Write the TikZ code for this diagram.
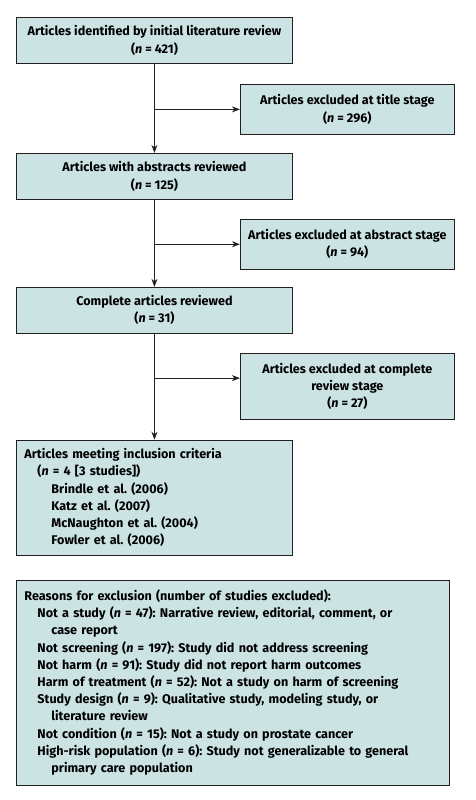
\documentclass[tikz,border=0pt]{standalone}
\usepackage{fontspec}
\setmainfont{Fira Sans}
\usetikzlibrary{positioning,arrows.meta}
\definecolor{boxfill}{RGB}{204,227,228}
\definecolor{boxline}{RGB}{35,31,32}
\frenchspacing
\begin{document}
\begin{tikzpicture}[x=1pt,y=1pt]
        \tikzstyle{stage}=[rectangle,draw=boxline,fill=boxfill,line width=0.9pt,minimum width=276pt,minimum height=46pt,inner sep=0pt,align=center,font=\fontsize{12.6}{17.2}\selectfont\bfseries]
        \tikzstyle{excluded}=[stage,minimum width=214pt,minimum height=50pt]
        \tikzstyle{flow}=[draw=boxline,line width=0.8pt,-{Stealth[length=8pt,width=6pt]}]
        \useasboundingbox (0,0) rectangle (475,-800);
        \node[stage,anchor=north west] (stage_1) at (16,-17) {Articles identified by initial literature review\\(\textit{n} = 421)};
        \node[stage] (stage_2) [below=89pt of stage_1] {Articles with abstracts reviewed\\(\textit{n} = 125)};
        \node[stage] (stage_3) [below=87pt of stage_2] {Complete articles reviewed\\(\textit{n} = 31)};
        \node[stage,minimum height=115pt,text width=260pt,align=left] (stage_4) [below=106pt of stage_3] {Articles meeting inclusion criteria\\
            \hspace*{13pt}(\textit{n} = 4 [3 studies])\\
            \hspace*{27pt}Brindle et al. (2006)\\
            \hspace*{27pt}Katz et al. (2007)\\
            \hspace*{27pt}McNaughton et al. (2004)\\
            \hspace*{27pt}Fowler et al. (2006)};
        \node[excluded] (excl_1) [below right=20pt and -53pt of stage_1.south east] {Articles excluded at title stage\\(\textit{n} = 296)};
        \node[excluded] (excl_2) [below right=19pt and -53pt of stage_2.south east] {Articles excluded at abstract stage\\(\textit{n} = 94)};
        \node[excluded,minimum height=66pt] (excl_3) [below right=19pt and -53pt of stage_3.south east] {Articles excluded at complete\\review stage\\(\textit{n} = 27)};
        \coordinate (excl_3_in) at ([yshift=8pt]excl_3.west);
        \draw[flow] (stage_1.south) -- (stage_2.north);
        \draw[flow] (stage_2.south) -- (stage_3.north);
        \draw[flow] (stage_3.south) -- (stage_4.north);
        \draw[flow] (stage_1.south |- excl_1.west) -- (excl_1.west);
        \draw[flow] (stage_2.south |- excl_2.west) -- (excl_2.west);
        \draw[flow] (stage_3.south |- excl_3_in) -- (excl_3_in);
        \node[stage,minimum width=433pt,minimum height=205pt,text width=417pt,align=left] (reasons) [below=24pt of stage_4.south west,anchor=north west] {Reasons for exclusion (number of studies excluded):\\
            \hspace*{13pt}Not a study (\textit{n} = 47): Narrative review, editorial, comment, or\\
            \hspace*{27pt}case report\\
            \hspace*{13pt}Not screening (\textit{n} = 197): Study did not address screening\\
            \hspace*{13pt}Not harm (\textit{n} = 91): Study did not report harm outcomes\\
            \hspace*{13pt}Harm of treatment (\textit{n} = 52): Not a study on harm of screening\\
            \hspace*{13pt}Study design (\textit{n} = 9): Qualitative study, modeling study, or\\
            \hspace*{27pt}literature review\\
            \hspace*{13pt}Not condition (\textit{n} = 15): Not a study on prostate cancer\\
            \hspace*{13pt}High-risk population (\textit{n} = 6): Study not generalizable to general\\
            \hspace*{27pt}primary care population};
    \end{tikzpicture}
\end{document}
